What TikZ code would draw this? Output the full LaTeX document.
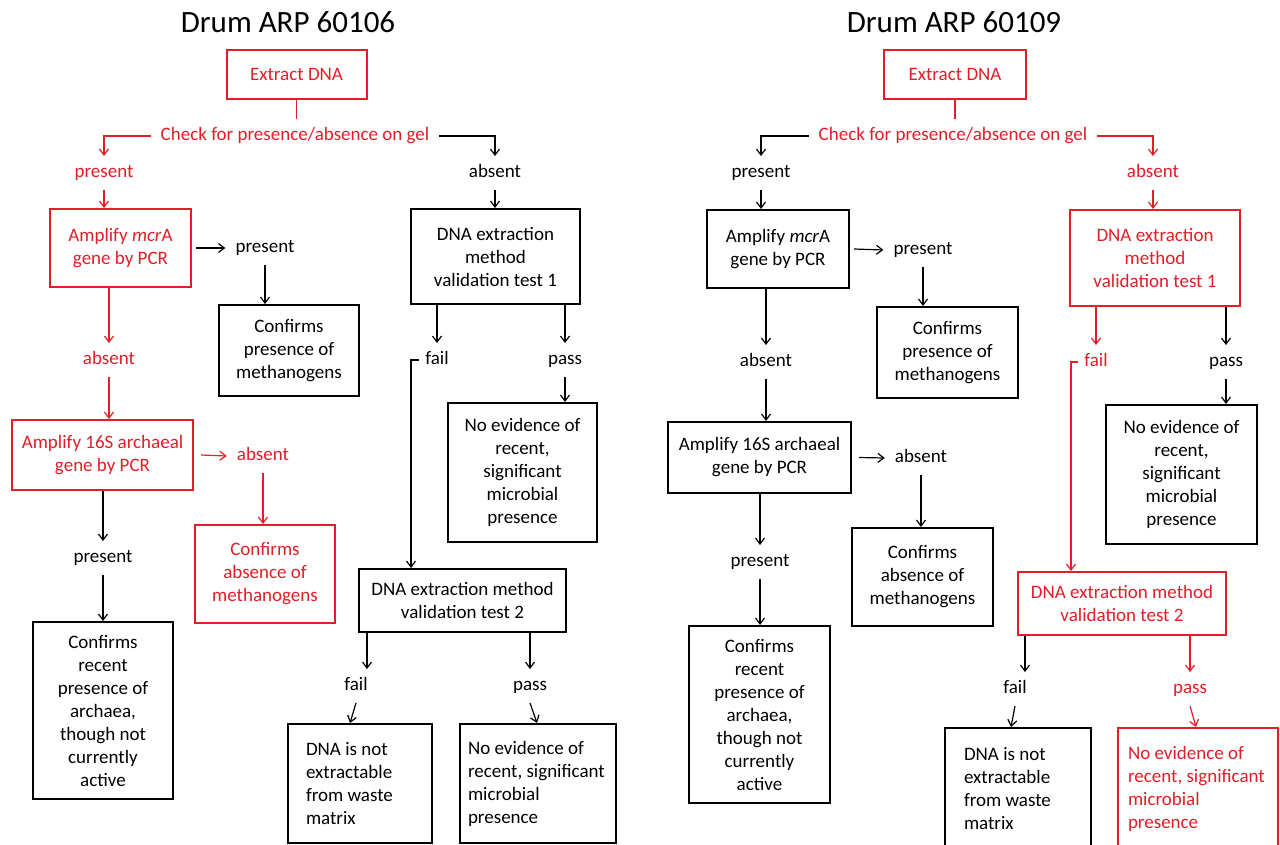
\documentclass[tikz,border=0pt]{standalone}
\usepackage{fontspec}
\setmainfont{Carlito}
\usetikzlibrary{arrows.meta}
\definecolor{rd}{RGB}{226,30,40}
\begin{document}
\begin{tikzpicture}[x=1pt,y=-1pt,
  every node/.style={font=\fontsize{19}{23}\selectfont},
  bx/.style={draw, line width=2pt, align=center, inner sep=0pt},
  rbx/.style={bx, draw=rd, text=rd},
  lab/.style={inner xsep=10pt, inner ysep=9pt, text height=12pt, text depth=3.5pt},
  ttl/.style={font=\fontsize{31}{36}\selectfont, anchor=base},
  ln/.style={line width=1.2pt},
  ar/.style={ln, -{Straight Barb[length=6pt,width=9pt]}},
]
\fill[white] (0,0) rectangle (1280,844);
\useasboundingbox (0,0) rectangle (1280,844);
\clip (0,0) rectangle (1280,844);

% ---------------- Left diagram ----------------
\node[ttl] (ttl1) at (288,32) {Drum ARP 60106};
\node[rbx, minimum width=140pt, minimum height=49pt] (ext1) at (296.5,74.5) {Extract DNA};
\node[lab, text=rd] (chk1) at (295,136) {Check for presence/absence on gel};
\node[lab, text=rd] (pres1) at (104,173) {present};
\node[lab] (abs1) at (495,173) {absent};
\node[rbx, minimum width=141pt, minimum height=78pt] (amp1) at (120.5,248) {Amplify \textit{mcr}A\\gene by PCR};
\node[lab] (pres2) at (265,248) {present};
\node[bx, minimum width=140pt, minimum height=91pt] (conf1) at (289,350.5) {Confirms\\presence of\\methanogens};
\node[lab, text=rd] (abs2) at (109,360) {absent};
\node[rbx, minimum width=181pt, minimum height=70pt] (amp2) at (102.5,455) {Amplify 16S archaeal\\gene by PCR};
\node[lab, text=rd] (abs3) at (263,456) {absent};
\node[rbx, minimum width=140pt, minimum height=98pt] (confabs1) at (265,574) {Confirms\\absence of\\methanogens};
\node[lab] (pres3) at (103,558) {present};
\node[bx, minimum width=140pt, minimum height=177pt] (confrec1) at (103,710.5) {Confirms\\recent\\presence of\\archaea,\\though not\\currently\\active};
\node[bx, minimum width=169pt, minimum height=95pt] (t1a) at (495.5,256.5) {DNA extraction\\method\\validation test 1};
\node[lab] (fail1) at (437,360) {fail};
\node[lab] (pass1) at (565,360) {pass};
\node[bx, minimum width=149pt, minimum height=139pt] (noev1) at (522.5,472.5) {No evidence of\\recent,\\significant\\microbial\\presence};
\node[bx, minimum width=207pt, minimum height=63pt] (t2a) at (462.5,600.5) {DNA extraction method\\validation test 2};
\node[lab] (fail2) at (356,686) {fail};
\node[lab] (pass2) at (530,686) {pass};
\node[bx, align=flush left, inner xsep=18pt, text width=108pt, minimum height=119pt] (dna1) at (360,783.5) {DNA is not\\extractable\\from waste\\matrix};
\node[bx, align=flush left, inner xsep=8pt, text width=140pt, minimum height=119pt] (noev2) at (538,783.5) {No evidence of\\recent, significant\\microbial\\presence};

\draw[ln, rd] (ext1.south) -- (ext1.south |- chk1.north);
\draw[ar, rd] (chk1.west) -| (pres1.north);
\draw[ar] (chk1.east) -| (abs1.north);
\draw[ar, rd] (pres1.south) -- (pres1.south |- amp1.north);
\draw[ar] ([xshift=4pt]amp1.east) -- (pres2.west);
\draw[ar] (pres2.south) -- (pres2.south |- conf1.north);
\draw[ar, rd] (amp1.south -| abs2.north) -- (abs2.north);
\draw[ar, rd] (abs2.south) -- (abs2.south |- amp2.north);
\draw[ar, rd] ([xshift=7pt]amp2.east) -- (abs3.west);
\draw[ar, rd] (abs3.south) -- (abs3.south |- confabs1.north);
\draw[ar] (amp2.south -| pres3.north) -- (pres3.north);
\draw[ar] (pres3.south) -- (pres3.south |- confrec1.north);
\draw[ar] (abs1.south) -- (abs1.south |- t1a.north);
\draw[ar] (t1a.south -| fail1.north) -- (fail1.north);
\draw[ar] (t1a.south -| pass1.north) -- (pass1.north);
\draw[ar] ([xshift=4pt]fail1.west) -| ([xshift=-51.5pt]t2a.north);
\draw[ar] (pass1.south) -- (pass1.south |- noev1.north);
\draw[ar] ([xshift=-95.5pt]t2a.south) -- ([xshift=-95.5pt]t2a.south |- fail2.north);
\draw[ar] (t2a.south -| pass2.north) -- (pass2.north);
\draw[ar] (fail2.south) -- ([xshift=-10pt]dna1.north);
\draw[ar] (pass2.south) -- ([xshift=-1pt]noev2.north);

% ---------------- Right diagram ----------------
\node[ttl] (ttl2) at (954,32) {Drum ARP 60109};
\node[rbx, minimum width=142pt, minimum height=49pt] (ext2) at (955,74.5) {Extract DNA};
\node[lab, text=rd] (chk2) at (953,136) {Check for presence/absence on gel};
\node[lab] (pres4) at (761,173) {present};
\node[lab, text=rd] (abs4) at (1153,173) {absent};
\node[bx, minimum width=142pt, minimum height=78pt] (amp3) at (778,249) {Amplify \textit{mcr}A\\gene by PCR};
\node[lab] (pres5) at (923,250) {present};
\node[bx, minimum width=141pt, minimum height=91pt] (conf2) at (947.5,352.5) {Confirms\\presence of\\methanogens};
\node[lab] (abs5) at (766,362) {absent};
\node[bx, minimum width=183pt, minimum height=71pt] (amp4) at (759.5,457.5) {Amplify 16S archaeal\\gene by PCR};
\node[lab] (abs6) at (921,458) {absent};
\node[bx, minimum width=141pt, minimum height=98pt] (confabs2) at (922.5,577) {Confirms\\absence of\\methanogens};
\node[lab] (pres6) at (760,562) {present};
\node[bx, minimum width=141pt, minimum height=177pt] (confrec2) at (759.5,714.5) {Confirms\\recent\\presence of\\archaea,\\though not\\currently\\active};
\node[rbx, minimum width=170pt, minimum height=96pt] (t1b) at (1155,258) {DNA extraction\\method\\validation test 1};
\node[lab, text=rd] (fail3) at (1096,362) {fail};
\node[lab] (pass3) at (1226,362) {pass};
\node[bx, minimum width=151pt, minimum height=139pt] (noev3) at (1181.5,474.5) {No evidence of\\recent,\\significant\\microbial\\presence};
\node[rbx, minimum width=208pt, minimum height=63pt] (t2b) at (1122,603.5) {DNA extraction method\\validation test 2};
\node[lab] (fail4) at (1015,689) {fail};
\node[lab, text=rd] (pass4) at (1190,689) {pass};
\node[bx, align=flush left, inner xsep=19pt, text width=108pt, minimum height=121pt] (dna2) at (1018,788.5) {DNA is not\\extractable\\from waste\\matrix};
\node[rbx, align=flush left, inner xsep=10pt, text width=140pt, minimum height=121pt] (noev4) at (1198,788.5) {No evidence of\\recent, significant\\microbial\\presence};

\draw[ln, rd] (ext2.south) -- (ext2.south |- chk2.north);
\draw[ar] (chk2.west) -| (pres4.north);
\draw[ar, rd] (chk2.east) -| (abs4.north);
\draw[ar] (pres4.south) -- (pres4.south |- amp3.north);
\draw[ar] ([xshift=4pt]amp3.east) -- (pres5.west);
\draw[ar] (pres5.south) -- (pres5.south |- conf2.north);
\draw[ar] (amp3.south -| abs5.north) -- (abs5.north);
\draw[ar] (abs5.south) -- (abs5.south |- amp4.north);
\draw[ar] ([xshift=7pt]amp4.east) -- (abs6.west);
\draw[ar] (abs6.south) -- (abs6.south |- confabs2.north);
\draw[ar] (amp4.south -| pres6.north) -- (pres6.north);
\draw[ar] (pres6.south) -- (pres6.south |- confrec2.north);
\draw[ar, rd] (abs4.south) -- (abs4.south |- t1b.north);
\draw[ar, rd] (t1b.south -| fail3.north) -- (fail3.north);
\draw[ar] (t1b.south -| pass3.north) -- (pass3.north);
\draw[ar, rd] ([xshift=4pt]fail3.west) -| ([xshift=-51pt]t2b.north);
\draw[ar] (pass3.south) -- (pass3.south |- noev3.north);
\draw[ar] ([xshift=-97pt]t2b.south) -- ([xshift=-97pt]t2b.south |- fail4.north);
\draw[ar, rd] (t2b.south -| pass4.north) -- (pass4.north);
\draw[ar] (fail4.south) -- ([xshift=-7pt]dna2.north);
\draw[ar, rd] (pass4.south) -- ([xshift=-2pt]noev4.north);
\end{tikzpicture}
\end{document}
